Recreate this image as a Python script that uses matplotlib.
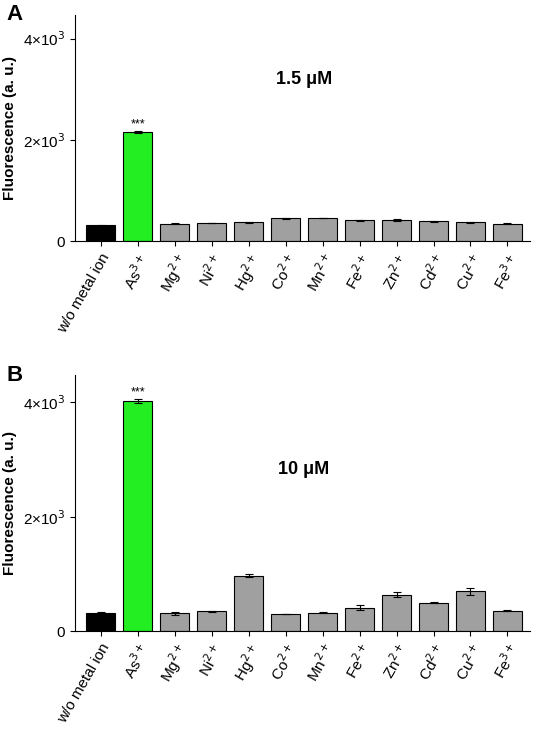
import matplotlib
matplotlib.use("Agg")
import matplotlib.pyplot as plt
import numpy as np

plt.rcParams['font.family'] = ['Liberation Sans', 'DejaVu Sans']

labels = ["w/o metal ion", "As$^{3+}$", "Mg$^{2+}$", "Ni$^{2+}$", "Hg$^{2+}$", "Co$^{2+}$",
          "Mn$^{2+}$", "Fe$^{2+}$", "Zn$^{2+}$", "Cd$^{2+}$", "Cu$^{2+}$", "Fe$^{3+}$"]
vals_a = [320, 2160, 350, 360, 370, 450, 460, 410, 420, 390, 370, 350]
err_a = [10, 20, 8, 8, 10, 15, 8, 10, 12, 8, 8, 8]
vals_b = [320, 4020, 310, 350, 970, 300, 320, 410, 640, 500, 700, 360]
err_b = [10, 30, 20, 10, 30, 8, 10, 40, 50, 15, 60, 10]
titles = ["1.5 μM", "10 μM"]
title_y = [3100, 2750]
letters = ["A", "B"]

colors = ["black", "#22ee22"] + ["#a0a0a0"] * 10

fig = plt.figure(figsize=(5.35, 7.4), dpi=100)
axes = [fig.add_axes([0.14, 0.674, 0.85, 0.306]), fig.add_axes([0.14, 0.147, 0.85, 0.346])]
for ax, vals, err, t, ty, L in zip(axes, [vals_a, vals_b], [err_a, err_b], titles, title_y, letters):
    x = np.arange(len(vals))
    ax.bar(x, vals, width=0.78, color=colors, edgecolor="black", linewidth=0.8,
           yerr=err, capsize=3, error_kw=dict(elinewidth=0.8, capthick=0.8))
    ax.set_xlim(-0.7, 11.6)
    ax.set_ylim(0, 4470)
    ax.set_yticks([0, 2000, 4000])
    ax.set_yticklabels(["0", "2×10$^3$", "4×10$^3$"], fontsize=11)
    ax.set_xticks(x)
    ax.set_xticklabels(labels, rotation=60, ha="right", rotation_mode="anchor", fontsize=11)
    for s in ["top", "right"]:
        ax.spines[s].set_visible(False)
    ax.set_ylabel("Fluorescence (a. u.)", fontsize=11, fontweight="bold")
    ax.text(5.5, ty, t, fontsize=13, fontweight="bold", ha="center")
    ax.text(1, vals[1] + err[1] + 60, "***", ha="center", fontsize=9)
    ax.text(-0.115, 1.0, L, transform=ax.transAxes, fontsize=16, fontweight="bold", va="center", ha="right")
fig.savefig("out.png", dpi=100)
